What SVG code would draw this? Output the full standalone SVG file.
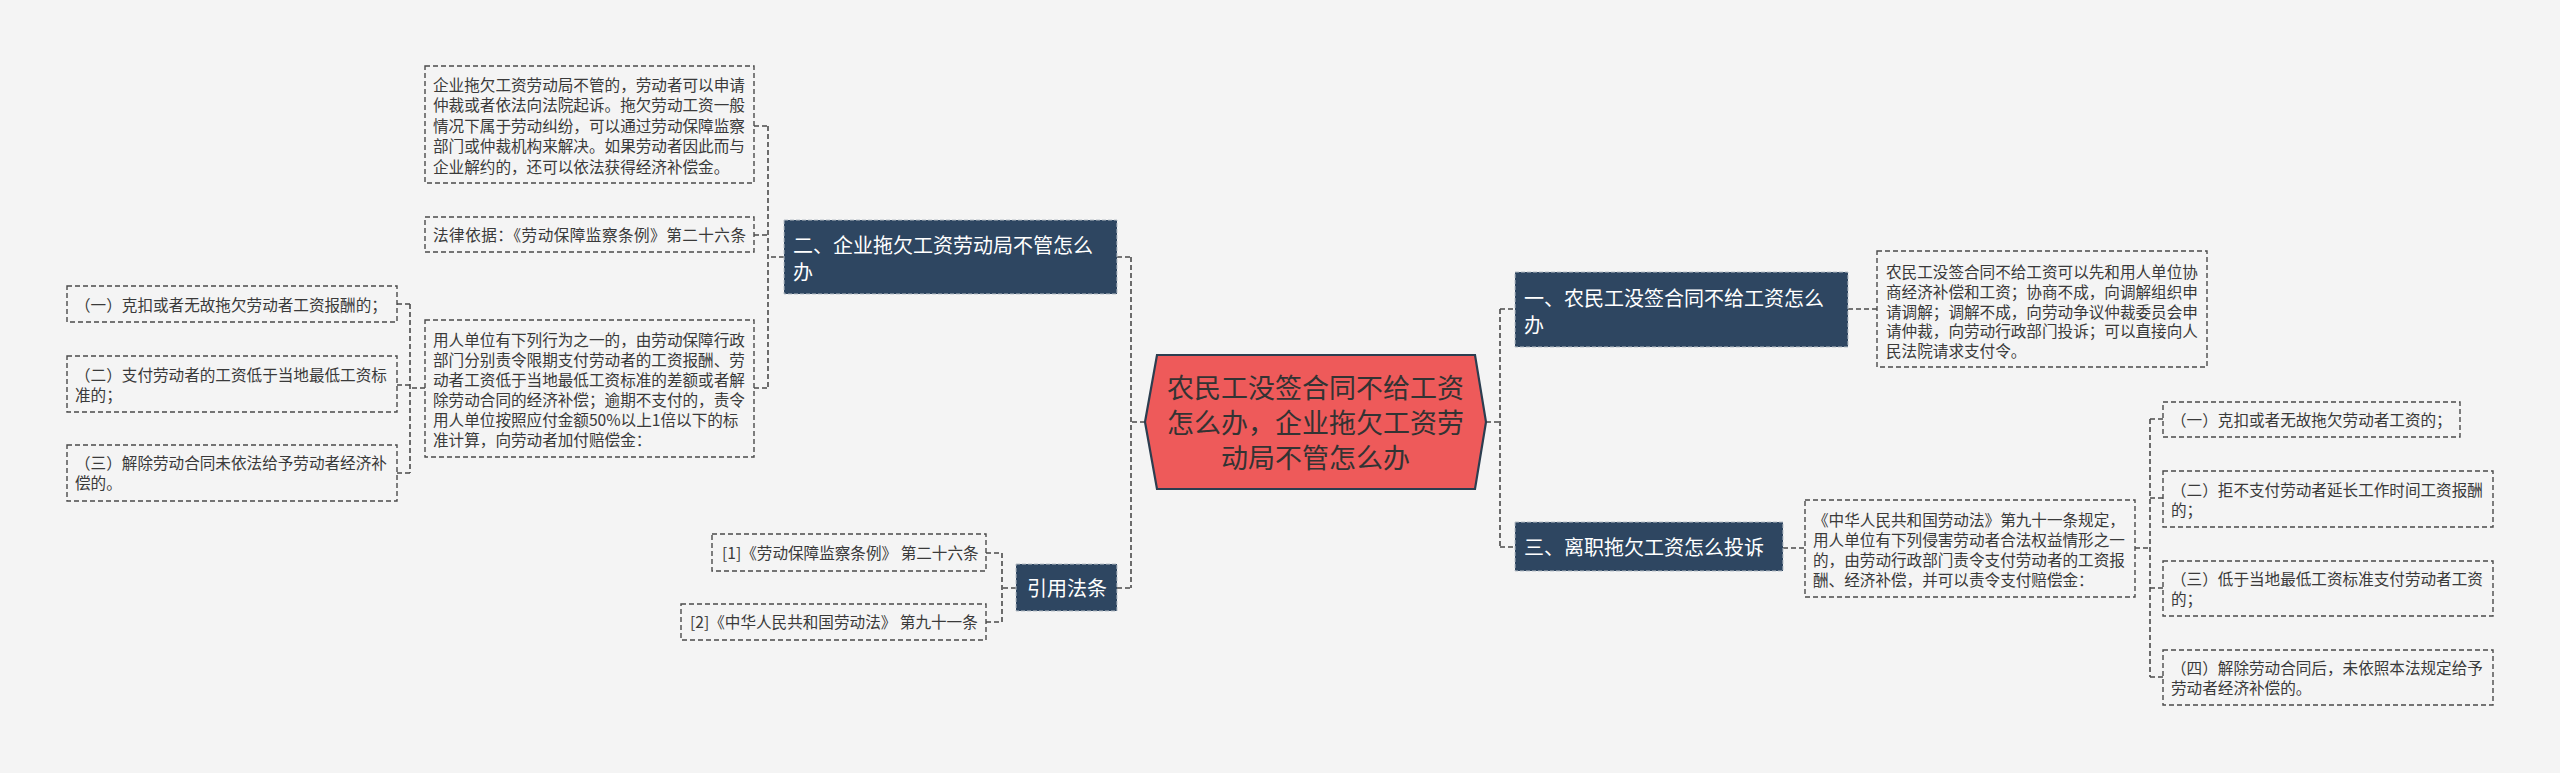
<svg xmlns="http://www.w3.org/2000/svg" width="2560" height="773" viewBox="0 0 2560 773">
<style>
.bg{fill:#f4f4f4}
.conn{fill:none;stroke:#4a4a4a;stroke-width:1.6;stroke-dasharray:5 3}
.leaf{fill:none;stroke:#4a4a4a;stroke-width:1.4;stroke-dasharray:5 3}
.lt{font-family:"Microsoft YaHei","Noto Sans CJK SC","Noto Sans",sans-serif;font-size:15.6px;fill:#3a3a3a}
.br{fill:#2e4661;stroke:#b8c0c8;stroke-width:1;stroke-dasharray:4 2}
.bt{font-family:"Microsoft YaHei","Noto Sans CJK SC","Noto Sans",sans-serif;font-size:20px;fill:#ffffff}
.ct{font-family:"Microsoft YaHei","Noto Sans CJK SC","Noto Sans",sans-serif;font-size:27px;fill:#333333;text-anchor:middle}
</style>
<rect class="bg" x="0" y="0" width="2560" height="773"/>
<g id="connectors">
<path class="conn" d="M1145 422H1131M1131 257V588M1117 257H1131M1117 588H1131"/>
<path class="conn" d="M1486 422H1500M1500 309V547M1500 309H1515M1500 547H1515"/>
<path class="conn" d="M784 257H768M768 126V388M754 126H768M754 235H768M754 388H768"/>
<path class="conn" d="M425 388H410M410 304V473M397 304H410M397 385H410M397 473H410"/>
<path class="conn" d="M1016 588H1002M1002 553V622M986 553H1002M986 622H1002"/>
<path class="conn" d="M1848 309H1877"/>
<path class="conn" d="M1783 548H1805"/>
<path class="conn" d="M2135 548H2150M2150 419V677M2150 419H2163M2150 498H2163M2150 588H2163M2150 677H2163"/>
</g>
<g id="center">
<polygon points="1145,422 1157,355 1475,355 1486,422 1475,489 1157,489" fill="#ee5a5a" stroke="#2c3e50" stroke-width="2.2"/>
<text class="ct" x="1315.5" y="398">农民工没签合同不给工资</text>
<text class="ct" x="1315.5" y="433">怎么办，企业拖欠工资劳</text>
<text class="ct" x="1315.5" y="468">动局不管怎么办</text>
</g>
<g id="branch2">
<rect class="br" x="784" y="220" width="333" height="74"/>
<text class="bt" x="793" y="252.6">二、企业拖欠工资劳动局不管怎么</text>
<text class="bt" x="793" y="279.6">办</text>
</g>
<g id="leafA">
<rect class="leaf" x="425" y="66" width="329" height="117"/>
<text class="lt" x="433" y="91">企业拖欠工资劳动局不管的，劳动者可以申请</text>
<text class="lt" x="433" y="111.4">仲裁或者依法向法院起诉。拖欠劳动工资一般</text>
<text class="lt" x="433" y="131.8">情况下属于劳动纠纷，可以通过劳动保障监察</text>
<text class="lt" x="433" y="152.2">部门或仲裁机构来解决。如果劳动者因此而与</text>
<text class="lt" x="433" y="172.6">企业解约的，还可以依法获得经济补偿金。</text>
</g>
<g id="leafB">
<rect class="leaf" x="425" y="217" width="329" height="35"/>
<text class="lt" x="433" y="241" textLength="313" lengthAdjust="spacing">法律依据：《劳动保障监察条例》第二十六条</text>
</g>
<g id="leafC">
<rect class="leaf" x="425" y="320" width="329" height="137"/>
<text class="lt" x="433" y="346">用人单位有下列行为之一的，由劳动保障行政</text>
<text class="lt" x="433" y="366">部门分别责令限期支付劳动者的工资报酬、劳</text>
<text class="lt" x="433" y="386">动者工资低于当地最低工资标准的差额或者解</text>
<text class="lt" x="433" y="406">除劳动合同的经济补偿；逾期不支付的，责令</text>
<text class="lt" x="433" y="426">用人单位按照应付金额50%以上1倍以下的标</text>
<text class="lt" x="433" y="446">准计算，向劳动者加付赔偿金：</text>
</g>
<g id="leafL1">
<rect class="leaf" x="67" y="286" width="330" height="36"/>
<text class="lt" x="75" y="311">（一）克扣或者无故拖欠劳动者工资报酬的；</text>
</g>
<g id="leafL2">
<rect class="leaf" x="67" y="356" width="330" height="56"/>
<text class="lt" x="75" y="381">（二）支付劳动者的工资低于当地最低工资标</text>
<text class="lt" x="75" y="401">准的；</text>
</g>
<g id="leafL3">
<rect class="leaf" x="67" y="445" width="330" height="56"/>
<text class="lt" x="75" y="469">（三）解除劳动合同未依法给予劳动者经济补</text>
<text class="lt" x="75" y="489">偿的。</text>
</g>
<g id="branchRef">
<rect class="br" x="1016" y="564" width="101" height="47"/>
<text class="bt" x="1027" y="595.6">引用法条</text>
</g>
<g id="ref1">
<rect class="leaf" x="712" y="534" width="274" height="37"/>
<text class="lt" x="722" y="559">[1]《劳动保障监察条例》 第二十六条</text>
</g>
<g id="ref2">
<rect class="leaf" x="681" y="604" width="305" height="36"/>
<text class="lt" x="690" y="628">[2]《中华人民共和国劳动法》 第九十一条</text>
</g>
<g id="branch1">
<rect class="br" x="1515" y="272" width="333" height="75"/>
<text class="bt" x="1524" y="305.6">一、农民工没签合同不给工资怎么</text>
<text class="bt" x="1524" y="332.6">办</text>
</g>
<g id="detail1">
<rect class="leaf" x="1877" y="251" width="330" height="116"/>
<text class="lt" x="1886" y="278">农民工没签合同不给工资可以先和用人单位协</text>
<text class="lt" x="1886" y="297.8">商经济补偿和工资；协商不成，向调解组织申</text>
<text class="lt" x="1886" y="317.6">请调解；调解不成，向劳动争议仲裁委员会申</text>
<text class="lt" x="1886" y="337.4">请仲裁，向劳动行政部门投诉；可以直接向人</text>
<text class="lt" x="1886" y="357.2">民法院请求支付令。</text>
</g>
<g id="branch3">
<rect class="br" x="1515" y="522" width="268" height="49"/>
<text class="bt" x="1524" y="554.6">三、离职拖欠工资怎么投诉</text>
</g>
<g id="detail3">
<rect class="leaf" x="1805" y="500" width="330" height="97"/>
<text class="lt" x="1813" y="525.5">《中华人民共和国劳动法》第九十一条规定，</text>
<text class="lt" x="1813" y="545.5">用人单位有下列侵害劳动者合法权益情形之一</text>
<text class="lt" x="1813" y="565.5">的，由劳动行政部门责令支付劳动者的工资报</text>
<text class="lt" x="1813" y="585.5">酬、经济补偿，并可以责令支付赔偿金：</text>
</g>
<g id="leafR1">
<rect class="leaf" x="2163" y="402" width="297" height="35"/>
<text class="lt" x="2171" y="426">（一）克扣或者无故拖欠劳动者工资的；</text>
</g>
<g id="leafR2">
<rect class="leaf" x="2163" y="471" width="330" height="56"/>
<text class="lt" x="2171" y="496">（二）拒不支付劳动者延长工作时间工资报酬</text>
<text class="lt" x="2171" y="516">的；</text>
</g>
<g id="leafR3">
<rect class="leaf" x="2163" y="561" width="330" height="55"/>
<text class="lt" x="2171" y="585">（三）低于当地最低工资标准支付劳动者工资</text>
<text class="lt" x="2171" y="605">的；</text>
</g>
<g id="leafR4">
<rect class="leaf" x="2163" y="650" width="330" height="55"/>
<text class="lt" x="2171" y="674">（四）解除劳动合同后，未依照本法规定给予</text>
<text class="lt" x="2171" y="694">劳动者经济补偿的。</text>
</g>
</svg>
